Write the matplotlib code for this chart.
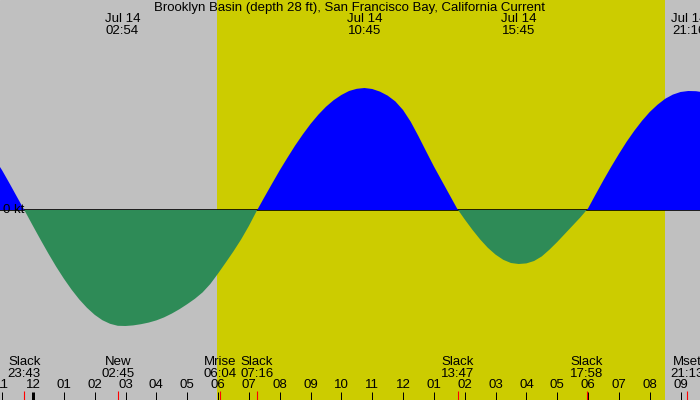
import matplotlib
matplotlib.use("Agg")
import matplotlib.pyplot as plt
import matplotlib.transforms as mtransforms

# hours since Jul 14 00:00 and current speed (kt)
hours = [-1.07, -1.0, -0.75, -0.5, -0.25, 0.0, 0.25, 0.5, 0.75, 1.0,
         1.25, 1.5, 1.75, 2.0, 2.25, 2.5, 2.75, 3.0, 3.25, 3.5, 3.75, 4.0,
         4.25, 4.5, 4.75, 5.0, 5.25, 5.5, 5.75, 6.0, 6.25, 6.5, 6.75, 7.0,
         7.25, 7.5, 7.75, 8.0, 8.25, 8.5, 8.75, 9.0, 9.25, 9.5, 9.75, 10.0,
         10.25, 10.5, 10.75, 11.0, 11.25, 11.5, 11.75, 12.0, 12.25, 12.5,
         12.75, 13.0, 13.25, 13.5, 13.75, 14.0, 14.25, 14.5, 14.75, 15.0,
         15.25, 15.5, 15.75, 16.0, 16.25, 16.5, 16.75, 17.0, 17.25, 17.5,
         17.75, 18.0, 18.25, 18.5, 18.75, 19.0, 19.25, 19.5, 19.75, 20.0,
         20.25, 20.5, 20.75, 21.0, 21.25, 21.5, 21.63]
speed = [0.215, 0.198, 0.130, 0.060, -0.009, -0.080, -0.150, -0.218,
         -0.283, -0.343, -0.398, -0.447, -0.489, -0.524, -0.551, -0.569,
         -0.579, -0.580, -0.577, -0.571, -0.563, -0.552, -0.537, -0.518,
         -0.496, -0.471, -0.444, -0.412, -0.370, -0.318, -0.263, -0.207,
         -0.147, -0.080, -0.006, 0.063, 0.131, 0.198, 0.261, 0.322, 0.378,
         0.430, 0.476, 0.516, 0.549, 0.575, 0.595, 0.606, 0.610, 0.605,
         0.592, 0.572, 0.543, 0.500, 0.441, 0.369, 0.293, 0.218, 0.148,
         0.078, 0.008, -0.047, -0.099, -0.147, -0.189, -0.223, -0.249,
         -0.265, -0.270, -0.267, -0.255, -0.232, -0.198, -0.160, -0.119,
         -0.078, -0.037, 0.008, 0.079, 0.149, 0.216, 0.280, 0.341, 0.396,
         0.446, 0.490, 0.526, 0.556, 0.577, 0.590, 0.595, 0.594, 0.591]

sunrise = 5.98
sunset = 20.5

# max current labels along the top
max_times = [2.9, 10.75, 15.75, 21.27]
max_labels = ["02:54", "10:45", "15:45", "21:16"]
max_date = "Jul 14"

# slack / moon events along the bottom
event_times = [-0.283, 2.75, 6.067, 7.267, 13.783, 17.967, 21.217]
event_names = ["Slack", "New", "Mrise", "Slack", "Slack", "Slack", "Mset"]
event_labels = ["23:43", "02:45", "06:04", "07:16", "13:47", "17:58", "21:13"]

tick_hours = list(range(-1, 22))
tick_labels = ["11", "12", "01", "02", "03", "04", "05", "06", "07", "08",
               "09", "10", "11", "12", "01", "02", "03", "04", "05", "06",
               "07", "08", "09"]

title = "Brooklyn Basin (depth 28 ft), San Francisco Bay, California Current"

plt.rcParams['font.family'] = ['Liberation Sans', 'DejaVu Sans']
fs = 9.5

fig = plt.figure(figsize=(7, 4), dpi=100)
ax = fig.add_axes([0, 0, 1, 1])
ax.set_xlim(-1.07, 21.63)
ax.set_ylim(-0.95, 1.05)
ax.axis("off")
ax.add_patch(plt.Rectangle((0, 0), 1, 1, transform=ax.transAxes,
                           color="#c0c0c0", zorder=0))

# daylight
ax.axvspan(sunrise, sunset, color="#cccc00", zorder=1, lw=0)

# zero line and the flood / ebb fills
ax.axhline(0, color="black", lw=1.2, zorder=2)
ax.fill_between(hours, speed, 0, where=[s >= 0 for s in speed],
                interpolate=True, color="#0000ff", lw=0, zorder=3)
ax.fill_between(hours, speed, 0, where=[s <= 0 for s in speed],
                interpolate=True, color="#2e8b57", lw=0, zorder=3)
ax.text(-0.98, 0, "0 kt", fontsize=fs, va="center", ha="left", zorder=4)

trans = mtransforms.blended_transform_factory(ax.transData, ax.transAxes)

# hour ticks
for h, lab in zip(tick_hours, tick_labels):
    w = 3 if h == 0 else 1
    ax.plot([h, h], [0, 0.02], color="black", lw=w * 0.72,
            transform=trans, zorder=5, solid_capstyle="butt")
    ax.text(h, 0.038, lab, fontsize=fs, ha="center", va="center",
            transform=trans, zorder=5)

# events
for t, name, lab in zip(event_times, event_names, event_labels):
    ax.plot([t, t], [0, 0.022], color="red", lw=0.8, transform=trans,
            zorder=6, solid_capstyle="butt")
    ax.text(t, 0.095, name, fontsize=fs, ha="center", va="center",
            transform=trans, zorder=5)
    ax.text(t, 0.066, lab, fontsize=fs, ha="center", va="center",
            transform=trans, zorder=5)

# max current times
for t, lab in zip(max_times, max_labels):
    ax.text(t, 0.953, max_date, fontsize=fs, ha="center", va="center",
            transform=trans, zorder=5)
    ax.text(t, 0.923, lab, fontsize=fs, ha="center", va="center",
            transform=trans, zorder=5)

ax.text(0.5, 0.981, title, fontsize=fs, ha="center", va="center",
        transform=ax.transAxes, zorder=5)

fig.savefig("out.png", dpi=100)
